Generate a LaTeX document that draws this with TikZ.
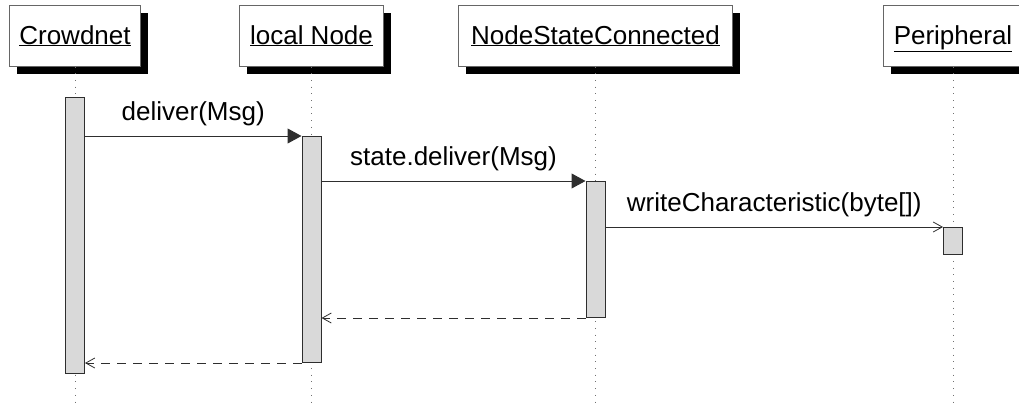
\documentclass[tikz,border=0pt]{standalone}
\usepackage{fontspec}
\setmainfont{Liberation Sans}
\usetikzlibrary{shadows,arrows.meta}
\definecolor{actfill}{HTML}{D9D9D9}
\definecolor{boxline}{HTML}{666666}
\definecolor{msgline}{HTML}{2E2E2E}
\definecolor{lifegray}{HTML}{707070}
\begin{document}
\begin{tikzpicture}[x=1pt,y=-1pt,
  every node/.style={font=\fontsize{26}{31}\selectfont},
  object/.style={draw=boxline, line width=1pt, fill=white, inner sep=0pt,
    minimum height=61pt, text height=22pt, text depth=5pt,
    drop shadow={shadow xshift=7.5pt, shadow yshift=-7.5pt, fill=black, opacity=1}},
  activation/.style={draw=msgline, line width=1pt, fill=actfill,
    minimum width=19pt, inner sep=0pt, anchor=north},
  lifeline/.style={draw=lifegray, line width=0.8pt, dash pattern=on 0.8pt off 5.9pt},
  call/.style={draw=msgline, line width=1pt, -{Triangle[length=14pt,width=15pt]}},
  signal/.style={draw=msgline, line width=1pt,
    -{Straight Barb[length=9pt,width=10pt,line width=0.8pt]}},
  reply/.style={signal, dash pattern=on 9pt off 7pt},
  msglabel/.style={anchor=base, yshift=16pt, inner sep=0pt}]

\clip (0,0) rectangle (1019,407);
\coordinate (bottom) at (0,407);

% participants
\node[object, minimum width=131pt] (crowdnet) at (75,35.5) {\underline{Crowdnet}};
\node[object, minimum width=144pt] (local) at (311.5,35.5) {\underline{local Node}};
\node[object, minimum width=274pt] (state) at (595.5,35.5) {\underline{NodeStateConnected}};
\node[object, minimum width=140pt] (periph) at (953,35.5) {\underline{Peripheral}};

% lifelines
\foreach \p in {crowdnet,local,state,periph}
  \draw[lifeline] (\p.south) -- (\p.south |- bottom);

% activation bars
\node[activation, minimum height=276pt] (a1) at (75,97) {};
\node[activation, minimum height=226pt] (a2) at (311.5,136) {};
\node[activation, minimum height=136pt] (a3) at (595.5,181) {};
\node[activation, minimum height=27pt]  (a4) at (953,227) {};

% messages
\draw[call] (a1.east |- a2.north west) -- node[msglabel] {deliver(Msg)} (a2.north west);
\draw[call] (a2.east |- a3.north west) -- node[msglabel] {state.deliver(Msg)} (a3.north west);
\draw[signal] (a3.east |- a4.north west) -- node[msglabel] {writeCharacteristic(byte[])} (a4.north west);

% replies
\draw[reply] (a3.south west) -- (a2.east |- a3.south west);
\draw[reply] (a2.south west) -- (a1.east |- a2.south west);
\end{tikzpicture}
\end{document}
